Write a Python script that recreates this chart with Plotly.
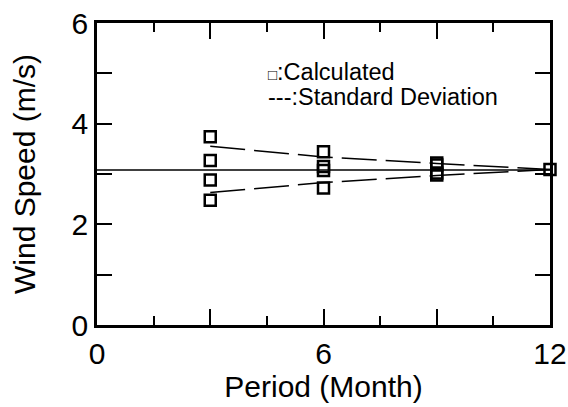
import plotly.graph_objects as go

# Data
calc_x = [3, 3, 3, 3, 6, 6, 6, 6, 9, 9, 9, 9, 12]
calc_y = [3.74, 3.27, 2.88, 2.48, 3.44, 3.15, 3.07, 2.72, 3.22, 3.18, 3.02, 2.98, 3.09]
sd_x = [3, 6, 9, 12]
sd_upper = [3.55, 3.34, 3.21, 3.09]
sd_lower = [2.63, 2.83, 2.97, 3.09]
mean_x = [0, 12]
mean_y = [3.08, 3.08]

FONT = "Liberation Sans, Arial, sans-serif"

fig = go.Figure()
fig.add_trace(go.Scatter(x=mean_x, y=mean_y, mode="lines",
                         line=dict(color="black", width=1.5), cliponaxis=False))
for ys in (sd_upper, sd_lower):
    fig.add_trace(go.Scatter(x=sd_x, y=ys, mode="lines",
                             line=dict(color="black", width=1.5, dash="35px,9px")))
fig.add_trace(go.Scatter(x=calc_x, y=calc_y, mode="markers", cliponaxis=False,
                         marker=dict(symbol="square-open", size=11, color="black",
                                     line=dict(width=2.5, color="black"))))

fig.update_layout(
    width=568, height=407,
    margin=dict(l=97, r=18, t=23, b=82),
    paper_bgcolor="white", plot_bgcolor="white",
    showlegend=False,
    font=dict(family=FONT, color="black", size=30),
    xaxis=dict(range=[0, 12], tickvals=[0, 3, 6, 9, 12], ticktext=["0", "", "6", "", "12"],
               automargin=False,
               ticks="inside", ticklen=16, tickwidth=2, tickcolor="black",
               showline=True, linewidth=2.5, linecolor="black", mirror="ticks",
               showgrid=False, zeroline=False,
               minor=dict(tickvals=[1.5, 4.5, 7.5, 10.5], ticks="inside", ticklen=9,
                          tickwidth=2, tickcolor="black", showgrid=False),
               title=dict(text="Period (Month)", font=dict(size=30), standoff=4),
               tickfont=dict(size=30)),
    yaxis=dict(range=[0, 6], tickvals=[0, 1, 2, 3, 4, 5, 6],
               ticktext=["0", "", "2", "", "4", "", "6"],
               automargin=False,
               ticks="inside", ticklen=15, tickwidth=2, tickcolor="black",
               showline=True, linewidth=2.5, linecolor="black", mirror="ticks",
               showgrid=False, zeroline=False,
               title=dict(text="Wind Speed (m/s)", font=dict(size=30), standoff=28),
               tickfont=dict(size=30)),
    annotations=[
        dict(text="<span style='font-size:15px'>□</span>:Calculated", xref="paper", yref="paper",
             x=0.373, y=0.838, xanchor="left", yanchor="middle", showarrow=False,
             font=dict(size=23.5)),
        dict(text="---:Standard Deviation", xref="paper", yref="paper", x=0.373, y=0.756,
             xanchor="left", yanchor="middle", showarrow=False, font=dict(size=23.5)),
    ],
)

fig.write_html("out.html")
